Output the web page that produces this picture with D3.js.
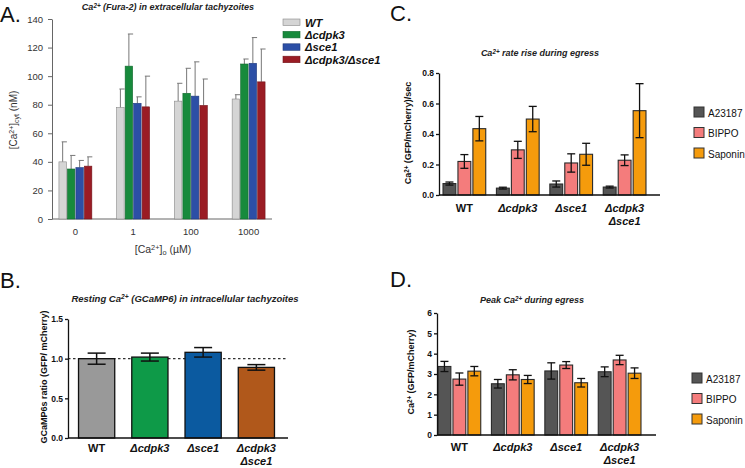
<!DOCTYPE html>
<html>
<head>
<meta charset="utf-8">
<script src="https://cdn.jsdelivr.net/npm/d3@7"></script>
<style>
  body { margin: 0; background: #fff; }
  svg { font-family: "Liberation Sans", Arial, sans-serif; }
</style>
</head>
<body>
<div id="fig"></div>
<script>
// panel A - Fura-2, extracellular
const concA = ['0', '1', '100', '1000'];
const strainsA = ['WT', 'Δcdpk3', 'Δsce1', 'Δcdpk3/Δsce1'];
const meanA = [[40, 35, 36, 37], [78, 107, 81, 78.5], [82.5, 88, 86, 79.5], [84, 108.5, 109, 96]];
const sdA = [[14, 9.5, 5, 6.5], [13, 22.5, 4.5, 21.5], [12.5, 17.5, 24, 18.5], [3, 3.5, 18, 23]];
const ticksA = [0, 20, 40, 60, 80, 100, 120, 140];

// panel B - GCaMP6 resting
const strainsB = ['WT', 'Δcdpk3', 'Δsce1', 'Δcdpk3 Δsce1'];
const meanB = [1.0, 1.02, 1.08, 0.89];
const sdB = [0.07, 0.05, 0.06, 0.035];
const ticksB = [0, 0.5, 1.0, 1.5];

// panels C, D - egress
const treatments = ['A23187', 'BIPPO', 'Saponin'];
const meanC = [[0.075, 0.22, 0.435], [0.045, 0.296, 0.498], [0.072, 0.21, 0.267], [0.052, 0.228, 0.553]];
const sdC = [[0.01, 0.045, 0.08], [0.006, 0.056, 0.083], [0.02, 0.06, 0.072], [0.006, 0.035, 0.177]];
const ticksC = [0, 0.2, 0.4, 0.6, 0.8];
const meanD = [[3.37, 2.75, 3.14], [2.52, 2.96, 2.73], [3.15, 3.44, 2.57], [3.11, 3.69, 3.04]];
const sdD = [[0.25, 0.3, 0.23], [0.21, 0.25, 0.2], [0.4, 0.17, 0.21], [0.24, 0.23, 0.26]];
const ticksD = [0, 1, 2, 3, 4, 5, 6];

const colA = ['#d5d5d5', '#178a3c', '#2c4fa6', '#9a1c24'];
const colB = ['#999999', '#0e9a48', '#0b5aa0', '#b0581b'];
const colT = ['#555555', '#f47c7c', '#f59b0c'];

const svg = d3.select('#fig').append('svg')
  .attr('width', 745)
  .attr('height', 468);

// text with super/subscripts, pieces = [[str, 'sup'|'sub'|null], ...]
function rich(t, pieces) {
  pieces.forEach(p => {
    const s = t.append('tspan').text(p[0]);
    if (p[1] === 'sup') s.attr('baseline-shift', '40%').attr('font-size', '70%');
    if (p[1] === 'sub') s.attr('baseline-shift', '-25%').attr('font-size', '70%');
  });
  return t;
}

function letter(x, y, s) {
  svg.append('text').attr('x', x).attr('y', y)
    .attr('font-size', 22).attr('fill', '#111').text(s);
}

letter(0, 22, 'A.');
letter(0, 288, 'B.');
letter(390, 21, 'C.');
letter(390, 287, 'D.');

// ---------- A ----------
const gA = svg.append('g');
const yA = d3.scaleLinear().domain([0, 140]).range([219, 19]);
const xA = d3.scaleBand().domain(concA).range([52, 272]).paddingInner(0.43).paddingOuter(0.12);
const xA2 = d3.scaleBand().domain(strainsA).range([0, xA.bandwidth()]).paddingInner(0.12);

gA.append('g')
  .attr('transform', 'translate(52,0)')
  .call(d3.axisLeft(yA).tickValues(ticksA).tickSize(4).tickSizeOuter(0).tickPadding(5))
  .call(g => g.selectAll('line,path').attr('stroke', '#666'))
  .call(g => g.selectAll('text').attr('font-size', 9.5).attr('fill', '#333').attr('font-family', null));

gA.append('g')
  .attr('transform', 'translate(0,219)')
  .call(d3.axisBottom(xA).tickSize(0).tickPadding(9))
  .call(g => g.select('.domain').attr('stroke', '#666').attr('d', 'M52,0H272'))
  .call(g => g.selectAll('text').attr('font-size', 9.5).attr('fill', '#333').attr('font-family', null));

const grpA = gA.selectAll('.grp').data(concA).join('g')
  .attr('transform', d => `translate(${xA(d)},0)`);

grpA.each(function (c, i) {
  const g = d3.select(this);
  const rows = strainsA.map((s, j) => ({ s, j, v: meanA[i][j], e: sdA[i][j] }));
  g.selectAll('line.err').data(rows).join('line')
    .attr('x1', d => xA2(d.s) + xA2.bandwidth() / 2)
    .attr('x2', d => xA2(d.s) + xA2.bandwidth() / 2)
    .attr('y1', d => yA(d.v))
    .attr('y2', d => yA(d.v + d.e))
    .attr('stroke', '#777').attr('stroke-width', 1);
  g.selectAll('line.cap').data(rows).join('line')
    .attr('x1', d => xA2(d.s) + xA2.bandwidth() / 2 - 1)
    .attr('x2', d => xA2(d.s) + xA2.bandwidth() + 0.5)
    .attr('y1', d => yA(d.v + d.e))
    .attr('y2', d => yA(d.v + d.e))
    .attr('stroke', '#777').attr('stroke-width', 1);
  g.selectAll('rect').data(rows).join('rect')
    .attr('x', d => xA2(d.s))
    .attr('y', d => yA(d.v))
    .attr('width', xA2.bandwidth())
    .attr('height', d => yA(0) - yA(d.v))
    .attr('fill', d => colA[d.j])
    .attr('stroke', d => d.j === 0 ? '#888' : d3.color(colA[d.j]).darker(0.8))
    .attr('stroke-width', 0.6);
});

rich(gA.append('text').attr('x', 168).attr('y', 10).attr('text-anchor', 'middle')
  .attr('font-size', 9).attr('font-weight', 'bold').attr('font-style', 'italic').attr('fill', '#222'),
  [['Ca'], ['2+', 'sup'], [' (Fura-2) in extracellular tachyzoites']]);

rich(gA.append('text').attr('transform', 'translate(17,120) rotate(-90)').attr('text-anchor', 'middle')
  .attr('font-size', 10).attr('fill', '#333'),
  [['[Ca'], ['2+', 'sup'], [']'], ['cyt', 'sub'], [' (nM)']]);

rich(gA.append('text').attr('x', 163).attr('y', 253).attr('text-anchor', 'middle')
  .attr('font-size', 10.5).attr('fill', '#333'),
  [['[Ca'], ['2+', 'sup'], [']'], ['o', 'sub'], [' (µM)']]);

const legA = gA.selectAll('.leg').data(strainsA).join('g')
  .attr('transform', (d, i) => `translate(283,${19 + i * 12.4})`);
legA.append('rect').attr('width', 17).attr('height', 6.5)
  .attr('fill', (d, i) => colA[i])
  .attr('stroke', (d, i) => i === 0 ? '#888' : d3.color(colA[i]).darker(0.8)).attr('stroke-width', 0.6);
legA.append('text').attr('x', 22).attr('y', 7.5)
  .attr('font-size', 11.2).attr('font-weight', 'bold').attr('font-style', 'italic')
  .attr('fill', '#111').text(d => d);

// x labels with two lines
function strainLabels(g, x, y, names) {
  names.forEach(n => {
    const lines = n.split(' ');
    const t = g.append('text').attr('x', x(n) + x.bandwidth() / 2).attr('y', y)
      .attr('text-anchor', 'middle').attr('font-size', 11).attr('font-weight', 'bold')
      .attr('font-style', n === 'WT' ? 'normal' : 'italic').attr('fill', '#111');
    lines.forEach((l, k) => t.append('tspan').attr('x', x(n) + x.bandwidth() / 2).attr('dy', k ? 13 : 0).text(l));
  });
}

function blackAxis(g, x0, x1, y, ticks, fmt) {
  g.append('g').attr('transform', `translate(${x0},0)`)
    .call(d3.axisLeft(y).tickValues(ticks).tickFormat(fmt).tickSize(3).tickSizeOuter(0).tickPadding(2))
    .call(a => a.selectAll('line,path').attr('stroke', '#111').attr('stroke-width', 1.3))
    .call(a => a.selectAll('text').attr('font-size', 8.5).attr('font-weight', 'bold').attr('fill', '#111').attr('font-family', null));
  g.append('line').attr('x1', x0).attr('x2', x1).attr('y1', y(0)).attr('y2', y(0))
    .attr('stroke', '#111').attr('stroke-width', 1.3);
}

// ---------- B ----------
const gB = svg.append('g');
const yB = d3.scaleLinear().domain([0, 1.5]).range([438, 319]);
const xB = d3.scaleBand().domain(strainsB).range([70, 283]).paddingInner(0.32).paddingOuter(0.16);

gB.append('line').attr('x1', 68).attr('x2', 288).attr('y1', yB(1)).attr('y2', yB(1))
  .attr('stroke', '#333').attr('stroke-width', 1.3).attr('stroke-dasharray', '2.5,2.5');

gB.selectAll('rect').data(strainsB).join('rect')
  .attr('x', d => xB(d))
  .attr('y', (d, i) => yB(meanB[i]))
  .attr('width', xB.bandwidth())
  .attr('height', (d, i) => yB(0) - yB(meanB[i]))
  .attr('fill', (d, i) => colB[i])
  .attr('stroke', '#111').attr('stroke-width', 1.3);

strainsB.forEach((s, i) => {
  const cx = xB(s) + xB.bandwidth() / 2;
  const w = 9;
  const g = gB.append('g').attr('stroke', '#111').attr('stroke-width', 1.5);
  g.append('line').attr('x1', cx).attr('x2', cx).attr('y1', yB(meanB[i] - sdB[i])).attr('y2', yB(meanB[i] + sdB[i]));
  g.append('line').attr('x1', cx - w).attr('x2', cx + w).attr('y1', yB(meanB[i] - sdB[i])).attr('y2', yB(meanB[i] - sdB[i]));
  g.append('line').attr('x1', cx - w).attr('x2', cx + w).attr('y1', yB(meanB[i] + sdB[i])).attr('y2', yB(meanB[i] + sdB[i]));
});

blackAxis(gB, 68, 288, yB, ticksB, d3.format('.1f'));
strainLabels(gB, xB, 452, strainsB);

rich(gB.append('text').attr('x', 185).attr('y', 302).attr('text-anchor', 'middle')
  .attr('font-size', 9.5).attr('font-weight', 'bold').attr('font-style', 'italic').attr('fill', '#222'),
  [['Resting Ca'], ['2+', 'sup'], ['  (GCaMP6) in intracellular tachyzoites']]);

gB.append('text').attr('transform', 'translate(47,377) rotate(-90)').attr('text-anchor', 'middle')
  .attr('font-size', 9).attr('font-weight', 'bold').attr('fill', '#111')
  .text('GCaMP6s ratio (GFP/ mCherry)');

// ---------- C & D ----------
function egress(g, y, x, means, sds, x0, x1, legX, legY) {
  const x2 = d3.scaleBand().domain(treatments).range([0, x.bandwidth()]).paddingInner(0.14);
  strainsB.forEach((s, i) => {
    treatments.forEach((t, j) => {
      const bx = x(s) + x2(t);
      g.append('rect')
        .attr('x', bx).attr('y', y(means[i][j]))
        .attr('width', x2.bandwidth()).attr('height', y(0) - y(means[i][j]))
        .attr('fill', colT[j]).attr('stroke', '#2a2a2a').attr('stroke-width', 1.1);
      const cx = bx + x2.bandwidth() / 2;
      const lo = y(means[i][j] - sds[i][j]), hi = y(means[i][j] + sds[i][j]);
      const e = g.append('g').attr('stroke', '#111').attr('stroke-width', 1.3);
      e.append('line').attr('x1', cx).attr('x2', cx).attr('y1', lo).attr('y2', hi);
      e.append('line').attr('x1', cx - 4).attr('x2', cx + 4).attr('y1', lo).attr('y2', lo);
      e.append('line').attr('x1', cx - 4).attr('x2', cx + 4).attr('y1', hi).attr('y2', hi);
    });
  });
  blackAxis(g, x0, x1, y, y === yC ? ticksC : ticksD, y === yC ? d3.format('.1f') : d3.format('d'));

  const leg = g.selectAll('.leg').data(treatments).join('g')
    .attr('transform', (d, i) => `translate(${legX},${legY + i * 20.5})`);
  leg.append('rect').attr('width', 10).attr('height', 10)
    .attr('fill', (d, i) => colT[i]).attr('stroke', '#333').attr('stroke-width', 1);
  leg.append('text').attr('x', 14).attr('y', 9.5).attr('font-size', 10).attr('fill', '#111').text(d => d);
}

const gC = svg.append('g');
const yC = d3.scaleLinear().domain([0, 0.8]).range([195, 73]);
const xC = d3.scaleBand().domain(strainsB).range([435, 654]).paddingInner(0.2).paddingOuter(0.15);
egress(gC, yC, xC, meanC, sdC, 439, 660, 694, 107);
strainLabels(gC, xC, 212, strainsB);
rich(gC.append('text').attr('x', 540).attr('y', 56).attr('text-anchor', 'middle')
  .attr('font-size', 9).attr('font-weight', 'bold').attr('font-style', 'italic').attr('fill', '#222'),
  [['Ca'], ['2+', 'sup'], [' rate rise during egress']]);
rich(gC.append('text').attr('transform', 'translate(411,133) rotate(-90)').attr('text-anchor', 'middle')
  .attr('font-size', 9).attr('font-weight', 'bold').attr('fill', '#111'),
  [['Ca'], ['2+', 'sup'], [' (GFP/mCherry)/sec']]);

const gD = svg.append('g');
const yD = d3.scaleLinear().domain([0, 6]).range([435, 313]);
const xD = d3.scaleBand().domain(strainsB).range([430, 649]).paddingInner(0.2).paddingOuter(0.15);
egress(gD, yD, xD, meanD, sdD, 437, 656, 692, 373);
strainLabels(gD, xD, 451, strainsB);
rich(gD.append('text').attr('x', 532).attr('y', 303).attr('text-anchor', 'middle')
  .attr('font-size', 9).attr('font-weight', 'bold').attr('font-style', 'italic').attr('fill', '#222'),
  [['Peak  Ca'], ['2+', 'sup'], [' during egress']]);
rich(gD.append('text').attr('transform', 'translate(414,372) rotate(-90)').attr('text-anchor', 'middle')
  .attr('font-size', 9).attr('font-weight', 'bold').attr('fill', '#111'),
  [['Ca'], ['2+', 'sup'], [' (GFP/mCherry)']]);
</script>
</body>
</html>
